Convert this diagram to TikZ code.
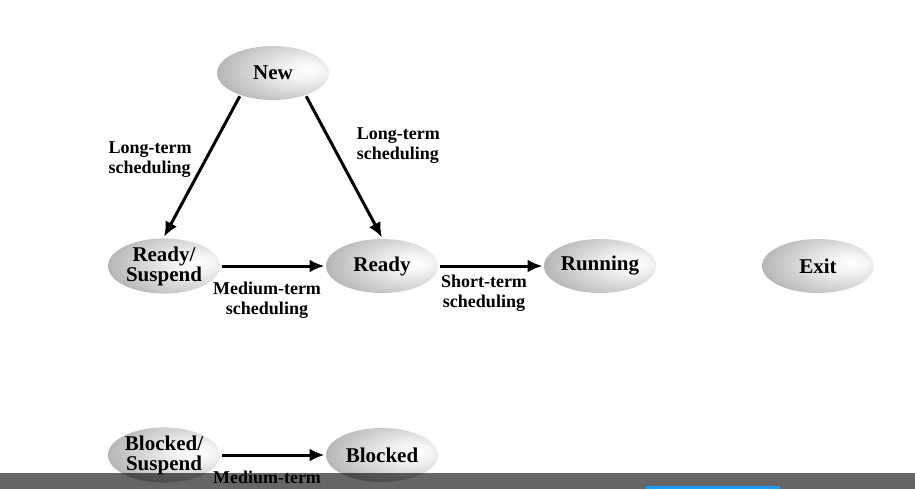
\documentclass[tikz,border=0pt]{standalone}
\usepackage{fontspec}
\setmainfont{Liberation Serif}
\usepackage{xcolor}
\usetikzlibrary{arrows.meta,shapes.geometric}
\tikzset{font={\fontsize{9}{10}\selectfont\bfseries}}
\definecolor{barblue}{HTML}{1E9BFF}
\pgfdeclareradialshading{statefill}{\pgfpoint{16bp}{3bp}}{%
  color(0bp)=(white); color(8bp)=(white!96!black);
  color(25bp)=(white!80!black); color(42bp)=(white!62!black);
  color(50bp)=(white!56!black); color(70bp)=(white!56!black)}

\begin{document}
\begin{tikzpicture}[x=0.5pt,y=0.5pt,->,>={Latex[length=7.5pt,width=6.5pt]},
                    line width=1.5pt,node distance=109pt,
                    state node/.style={ellipse,shading=statefill,minimum width=56pt,minimum height=27pt,
                                       inner sep=0pt,align=center,font=\fontsize{10.5}{10}\selectfont\bfseries},
                    sched/.style={align=center,font=\fontsize{9}{10}\selectfont\bfseries}]
  \useasboundingbox (0,0) rectangle (915,-489);

  \node[state node] (rsusp) at (164,-266) {Ready/\\Suspend};
  \node[state node] (ready) [right of=rsusp] {Ready};
  \node[state node] (running) [right of=ready] {Running};
  \node[state node] (exit) [right of=running] {Exit};
  \node[state node] (new) at (273,-73) {New};
  \node[state node] (bsusp) [below of=rsusp,node distance=94.5pt] {Blocked/\\Suspend};
  \node[state node] (blocked) [right of=bsusp] {Blocked};

  \path
    (new.-145) edge node[sched,pos=0.45,left=3pt,align=left] {Long-term\\scheduling} (rsusp.north)
    (new.-35) edge node[sched,pos=0.35,right=8pt,align=left] {Long-term\\scheduling} (ready.north)
    (rsusp) edge node[sched,below=4pt,xshift=-3pt] {Medium-term\\scheduling} (ready)
    (ready) edge node[sched,below=0.5pt,xshift=-3.5pt] {Short-term\\scheduling} (running)
    (bsusp) edge node[sched,below=4pt,xshift=-3pt] {Medium-term} (blocked);

  % player bar
  \fill[-,black,opacity=0.6] (0,-473) rectangle (915,-489);
  \fill[-,barblue] (646,-486) rectangle (780,-489);
\end{tikzpicture}
\end{document}
